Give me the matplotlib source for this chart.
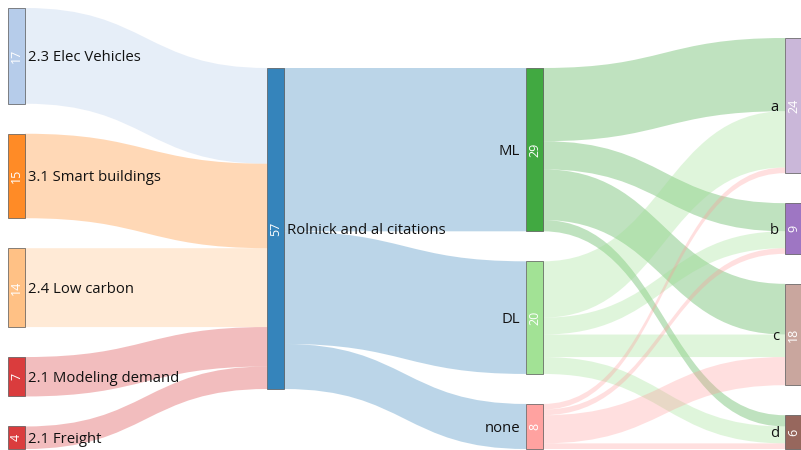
import matplotlib
matplotlib.use("Agg")
import matplotlib.pyplot as plt
from matplotlib.path import Path
from matplotlib.patches import PathPatch, Rectangle
from matplotlib.colors import to_rgb

# ---- data ----
topics = ['2.3 Elec Vehicles', '3.1 Smart buildings', '2.4 Low carbon',
          '2.1 Modeling demand', '2.1 Freight']
topic_counts = [17, 15, 14, 7, 4]
topic_colors = ['#aec7e8', '#ff7f0e', '#ffbb78', '#d62728', '#d62728']

hub = 'Rolnick and al citations'
hub_color = '#1f77b4'

methods = ['ML', 'DL', 'none']
method_counts = [29, 20, 8]
method_colors = ['#2ca02c', '#98df8a', '#ff9896']

outcomes = ['a', 'b', 'c', 'd']
outcome_colors = ['#c5b0d5', '#9467bd', '#c49c94', '#8c564b']
# rows: ML, DL, none ; columns: a, b, c, d
method_to_outcome = [[13, 5, 9, 2],
                     [10, 3, 4, 3],
                     [1, 1, 5, 1]]

# ---- build nodes / links ----
labels = topics + [hub] + methods + outcomes
colors = topic_colors + [hub_color] + method_colors + outcome_colors
column = [0] * len(topics) + [1] + [2] * len(methods) + [3] * len(outcomes)

hub_i = len(topics)
m0 = hub_i + 1
o0 = m0 + len(methods)

links = []
for i, v in enumerate(topic_counts):
    links.append((i, hub_i, v))
for j, v in enumerate(method_counts):
    links.append((hub_i, m0 + j, v))
for j, row in enumerate(method_to_outcome):
    for k, v in enumerate(row):
        links.append((m0 + j, o0 + k, v))

n = len(labels)
value = [0] * n
for s, t, v in links:
    value[t] += v
for s, t, v in links:
    if column[s] == 0:
        value[s] += v

# ---- layout (pixel units) ----
W, H = 801, 450
top, bottom = 8, 449
left, right = 8, 802
nw = 17
pad = 30
ncol = 4
fs = 10.7                      # label size in pt
fs_px = fs * 100 / 72

cols = [[i for i in range(n) if column[i] == c] for c in range(ncol)]
ky = min((bottom - top - (len(c) - 1) * pad) / sum(value[i] for i in c) for c in cols)
col_x = [left + c * (right - nw - left) / (ncol - 1) for c in range(ncol)]

col_top = []
for c in cols:
    h = sum(value[i] for i in c) * ky + (len(c) - 1) * pad
    col_top.append(bottom - h)
col_top[1] = col_top[2]

y0 = [0.0] * n
for ci, c in enumerate(cols):
    y = col_top[ci]
    for i in c:
        y0[i] = y
        y += value[i] * ky + pad

# ---- draw ----
fig = plt.figure(figsize=(W / 100, H / 100), dpi=100)
ax = fig.add_axes([0, 0, 1, 1])
ax.set_xlim(0, W)
ax.set_ylim(H, 0)
ax.axis('off')

out_off = [0.0] * n
in_off = [0.0] * n
for s, t, v in links:
    h = v * ky
    xs = col_x[column[s]] + nw
    xt = col_x[column[t]]
    ys = y0[s] + out_off[s]
    yt = y0[t] + in_off[t]
    out_off[s] += h
    in_off[t] += h
    xm = (xs + xt) / 2
    verts = [(xs, ys), (xm, ys), (xm, yt), (xt, yt),
             (xt, yt + h), (xm, yt + h), (xm, ys + h), (xs, ys + h), (xs, ys)]
    codes = [Path.MOVETO, Path.CURVE4, Path.CURVE4, Path.CURVE4,
             Path.LINETO, Path.CURVE4, Path.CURVE4, Path.CURVE4, Path.CLOSEPOLY]
    ax.add_patch(PathPatch(Path(verts, codes), facecolor=to_rgb(colors[s]) + (0.3,),
                           edgecolor='none', lw=0))

for i in range(n):
    x = col_x[column[i]]
    h = value[i] * ky
    yc = y0[i] + h / 2
    ax.add_patch(Rectangle((x, y0[i]), nw, h, facecolor=to_rgb(colors[i]) + (0.9,),
                           edgecolor='#555555', lw=0.5))
    ax.text(x + nw / 2, yc, str(value[i]), rotation=90, color='white',
            ha='center', va='center', fontsize=9, family='Open Sans')
    # baseline sits a third of an em below the node centre
    if column[i] < 2:
        ax.text(x + nw + 3, yc + 0.35 * fs_px, labels[i], ha='left', va='baseline',
                fontsize=fs, family='Open Sans', color='#111111')
    else:
        ax.text(x - 6, yc + 0.35 * fs_px, labels[i], ha='right', va='baseline',
                fontsize=fs, family='Open Sans', color='#111111')

fig.savefig('out.png', dpi=100)
